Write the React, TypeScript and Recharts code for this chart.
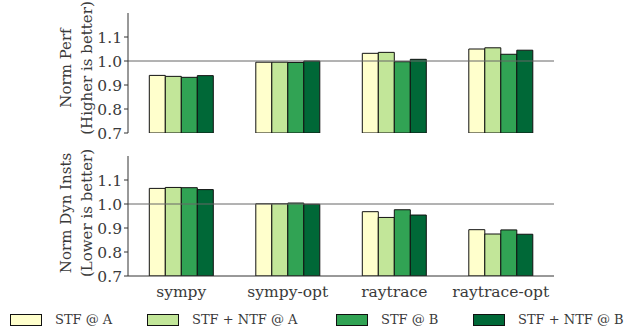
import { BarChart, Bar, XAxis, YAxis, ReferenceLine } from 'recharts';

const benchmarks = ['sympy', 'sympy-opt', 'raytrace', 'raytrace-opt'];
const seriesNames = ['STF @ A', 'STF + NTF @ A', 'STF @ B', 'STF + NTF @ B'];
const seriesColors = ['#ffffcc', '#c2e699', '#31a354', '#006837'];
const yTicks = [0.7, 0.8, 0.9, 1.0, 1.1];

// normalized performance (higher is better)
const perfStfA = [0.940, 0.995, 1.032, 1.050];
const perfStfNtfA = [0.936, 0.995, 1.036, 1.055];
const perfStfB = [0.932, 0.994, 0.997, 1.028];
const perfStfNtfB = [0.939, 1.000, 1.007, 1.045];

// normalized dynamic instructions (lower is better)
const instStfA = [1.065, 1.001, 0.968, 0.893];
const instStfNtfA = [1.069, 1.001, 0.944, 0.875];
const instStfB = [1.068, 1.004, 0.976, 0.892];
const instStfNtfB = [1.060, 0.999, 0.954, 0.874];

const keys = ['s0', 's1', 's2', 's3'];
const legendX = [10, 147, 336, 473];

const buildRows = (cols: number[][]) =>
  benchmarks.map((name, i) => {
    const row: Record<string, string | number> = { name };
    cols.forEach((c, j) => {
      row[keys[j]] = c[i];
    });
    return row;
  });

const perfData = buildRows([perfStfA, perfStfNtfA, perfStfB, perfStfNtfB]);
const instData = buildRows([instStfA, instStfNtfA, instStfB, instStfNtfB]);

const FONT = '"DejaVu Serif", serif';
const TEXT = '#3a3a3a';

const yLabel = (line1: string, line2: string, shift: number) => (props: any) => {
  const vb = props.viewBox;
  const cy = vb.y + vb.height / 2 + shift;
  return (
    <g>
      <text x={66} y={cy} transform={`rotate(-90 66 ${cy})`} textAnchor="middle" dominantBaseline="central"
        fontFamily={FONT} fontSize={15} fill={TEXT}>{line1}</text>
      <text x={87} y={cy} transform={`rotate(-90 87 ${cy})`} textAnchor="middle" dominantBaseline="central"
        fontFamily={FONT} fontSize={15} fill={TEXT}>{line2}</text>
    </g>
  );
};

type PanelProps = {
  data: Record<string, string | number>[];
  height: number;
  bottom: number;
  showX: boolean;
  line1: string;
  line2: string;
  shift: number;
};

const Panel = ({ data, height, bottom, showX, line1, line2, shift }: PanelProps) => (
  <BarChart width={631} height={height} data={data}
    margin={{ top: 13, right: 77, left: 0, bottom }}
    barCategoryGap="20%" barGap={0}>
    <XAxis dataKey="name" axisLine={{ stroke: '#333' }} tickLine={false}
      tick={showX ? { fontFamily: FONT, fontSize: 15.5, fill: TEXT } : false}
      height={showX ? 30 : 0} tickMargin={4} />
    <YAxis domain={[0.7, 1.2]} ticks={yTicks} interval={0} allowDataOverflow width={128}
      axisLine={{ stroke: '#333' }} tickLine={{ stroke: '#333' }} tickSize={4} tickMargin={2}
      tickFormatter={(v: number) => v.toFixed(1)}
      tick={{ fontFamily: FONT, fontSize: 15.5, fill: TEXT }}
      label={{ content: yLabel(line1, line2, shift) }} />
    <ReferenceLine y={1} stroke="#666" strokeWidth={1} />
    {keys.map((k, j) => (
      <Bar key={k} dataKey={k} fill={seriesColors[j]} stroke="#111" strokeWidth={1}
        isAnimationActive={false} />
    ))}
  </BarChart>
);

export default function App() {
  return (
    <div style={{ position: 'absolute', left: 0, top: 0, width: 631, height: 334, background: '#fff', overflow: 'hidden' }}>
      <div style={{ position: 'absolute', left: 0, top: 143 }}>
        <Panel data={instData} height={170} bottom={7} showX line1="Norm Dyn Insts" line2="(Lower is better)" shift={-3} />
      </div>
      <div style={{ position: 'absolute', left: 0, top: 0 }}>
        <Panel data={perfData} height={148} bottom={15} showX={false} line1="Norm Perf" line2="(Higher is better)" shift={-5} />
      </div>
      {seriesNames.map((n, j) => (
        <div key={n} style={{ position: 'absolute', left: legendX[j], top: 313, display: 'flex', alignItems: 'center',
          gap: 13, fontFamily: FONT, fontSize: 13, color: TEXT, whiteSpace: 'nowrap', lineHeight: '14px' }}>
          <div style={{ width: 30, height: 10, background: seriesColors[j], border: '1px solid #111' }} />
          <span>{n}</span>
        </div>
      ))}
    </div>
  );
}
